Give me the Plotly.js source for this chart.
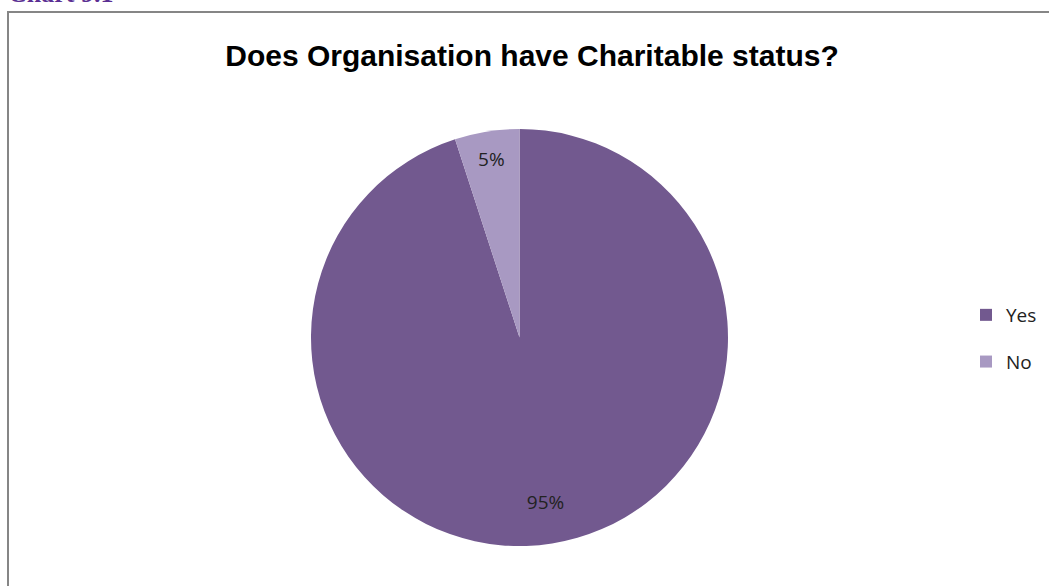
<!DOCTYPE html>
<html>
<head>
<meta charset="utf-8">
<script src="https://cdn.plot.ly/plotly-3.0.1.min.js"></script>
<style>html,body{margin:0;padding:0;background:#fff;}#chart{width:1049px;height:586px;}</style>
</head>
<body>
<div id="chart"></div>
<script>
const categories = ["Yes", "No"];
const values = [95, 5];
const sliceColors = ["#72598F", "#A899C2"];
const chartTitle = "Does Organisation have Charitable status?";
const caption = "Chart 9.1";

const W = 1049, H = 586;
const px = x => x / W;
const py = y => 1 - y / H;
const pieDomain = { x: [px(311), px(728)], y: [py(546), py(129)] };

const pie = {
  type: "pie",
  labels: categories,
  values: values,
  sort: false,
  direction: "clockwise",
  rotation: 0,
  marker: { colors: sliceColors, line: { width: 0 } },
  textinfo: "none",
  showlegend: false,
  hoverinfo: "label+percent",
  domain: pieDomain
};

// transparent ring carrying the percentage labels near the rim
const labelRing = {
  type: "pie",
  labels: categories,
  values: values,
  sort: false,
  direction: "clockwise",
  rotation: 0,
  hole: 0.6,
  marker: { colors: ["rgba(0,0,0,0)", "rgba(0,0,0,0)"], line: { width: 0 } },
  textinfo: "percent",
  textposition: "inside",
  insidetextorientation: "horizontal",
  textfont: { family: "Open Sans, sans-serif", size: 19, color: "#222" },
  showlegend: false,
  hoverinfo: "skip",
  domain: pieDomain
};

const legendTraces = categories.map((c, i) => ({
  type: "scatter",
  x: [null], y: [null],
  mode: "markers",
  name: c,
  legendgroup: c,
  marker: { symbol: "square", size: 12, color: sliceColors[i] },
  showlegend: true,
  hoverinfo: "skip"
}));

const layout = {
  width: W, height: H,
  margin: { l: 0, r: 0, t: 0, b: 0, autoexpand: false },
  paper_bgcolor: "#fff",
  plot_bgcolor: "#fff",
  xaxis: { visible: false },
  yaxis: { visible: false },
  title: {
    text: chartTitle,
    font: { family: "Liberation Sans, Arial, sans-serif", size: 30, color: "#000", weight: "bold" },
    x: px(532), xanchor: "center",
    y: py(55), yanchor: "middle", xref: "paper", yref: "paper"
  },
  showlegend: true,
  legend: {
    x: px(966), xanchor: "left",
    y: py(296), yanchor: "top",
    font: { family: "Open Sans, sans-serif", size: 19, color: "#222" },
    tracegroupgap: 19,
    itemwidth: 30,
    bgcolor: "rgba(0,0,0,0)"
  },
  shapes: [
    { type: "rect", xref: "paper", yref: "paper",
      x0: px(8), x1: 1.02, y0: -0.02, y1: py(12),
      line: { color: "#868686", width: 2 }, fillcolor: "rgba(0,0,0,0)" }
  ],
  annotations: [
    { text: caption, xref: "paper", yref: "paper", x: px(6), xanchor: "left",
      y: py(10), yanchor: "bottom", showarrow: false,
      font: { family: "Liberation Serif, Times New Roman, serif", size: 26, color: "#5B2F93", weight: "bold" } }
  ]
};

Plotly.newPlot("chart", [pie, labelRing].concat(legendTraces), layout, { displayModeBar: false, staticPlot: true });
</script>
</body>
</html>
